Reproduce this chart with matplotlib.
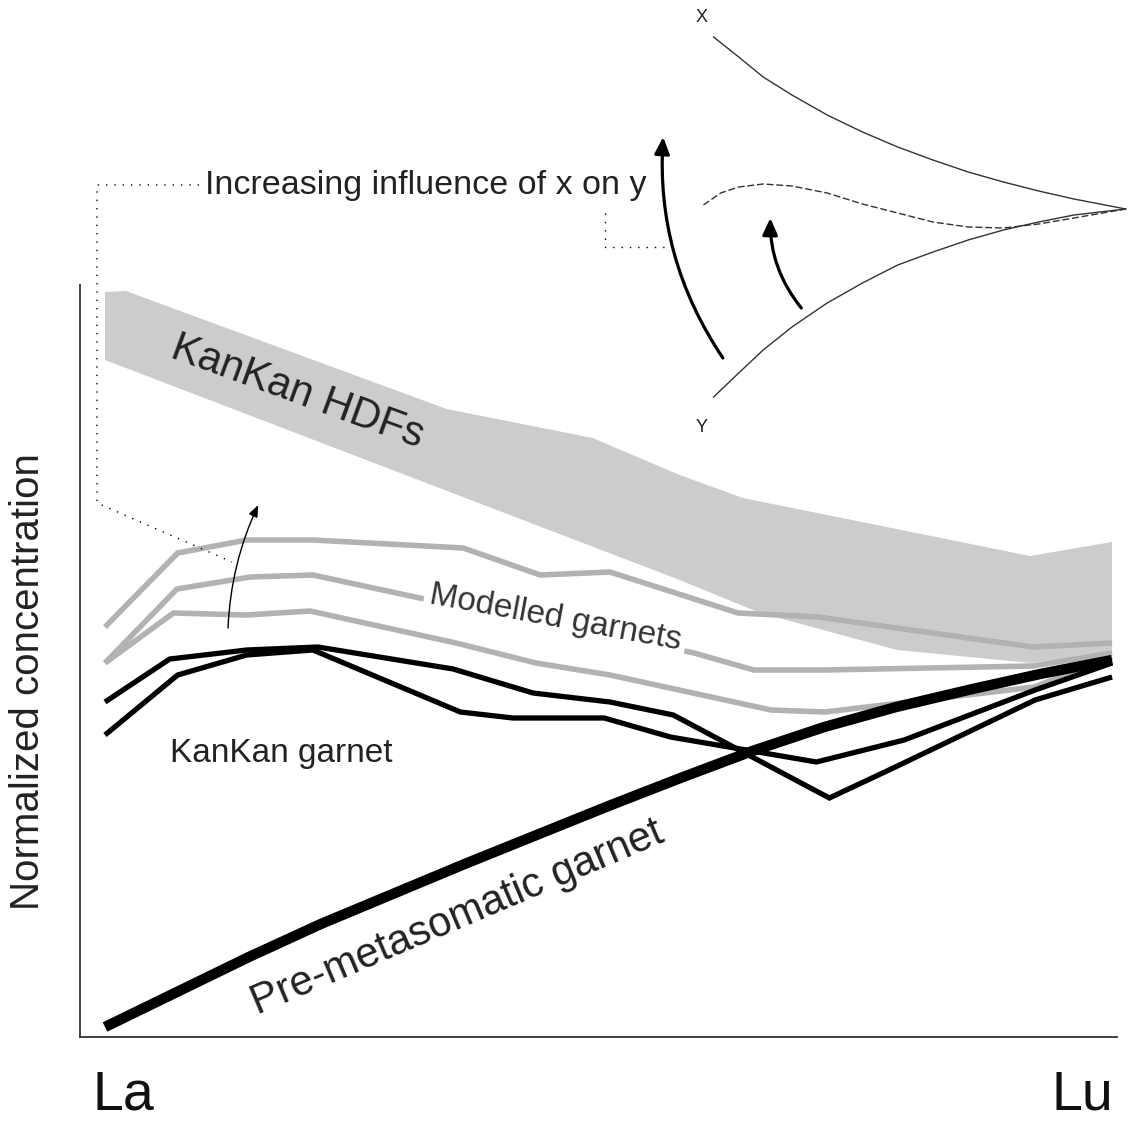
import matplotlib
matplotlib.use("Agg")
import matplotlib.pyplot as plt
from matplotlib.patches import FancyArrowPatch

plt.rcParams['font.family'] = ['Liberation Sans', 'DejaVu Sans']

# ---- data (x: position along REE series, La=0 ... Lu=14; y: normalized concentration, arbitrary units)
ree_labels = ['La', 'Lu']
ree_pos = [0, 14]

hdf_upper_x = [0, 0.29, 4.75, 6.78, 7.99, 8.87, 12.86, 14.0]
hdf_upper_y = [7.45, 7.46, 6.28, 5.99, 5.62, 5.39, 4.81, 4.95]
hdf_lower_x = [0, 7.99, 9.11, 11.01, 12.88, 14.0]
hdf_lower_y = [6.77, 4.57, 4.24, 3.87, 3.74, 3.85]

mod1_x = [0, 1.01, 1.97, 2.89, 4.98, 6.05, 7.02, 8.80, 9.91, 12.90, 14.0]
mod1_y = [4.10, 4.84, 4.97, 4.97, 4.89, 4.62, 4.65, 4.24, 4.20, 3.90, 3.94]
mod2_x = [0, 1.00, 2.02, 2.89, 4.31, 8.19, 9.02, 10.01, 12.90, 14.0]
mod2_y = [3.74, 4.48, 4.60, 4.62, 4.40, 3.84, 3.67, 3.67, 3.71, 3.84]
mod3_x = [0, 0.95, 1.97, 2.85, 4.88, 5.99, 7.02, 9.26, 10.01, 12.92, 14.0]
mod3_y = [3.74, 4.24, 4.22, 4.26, 3.94, 3.74, 3.62, 3.27, 3.25, 3.50, 3.80]

kk1_x = [0, 0.90, 1.97, 2.96, 4.84, 5.95, 7.02, 7.90, 10.07, 10.90, 12.93, 14.0]
kk1_y = [3.35, 3.78, 3.87, 3.90, 3.68, 3.44, 3.35, 3.22, 2.39, 2.67, 3.37, 3.60]
kk2_x = [0, 1.01, 1.97, 2.89, 4.94, 5.67, 6.94, 7.86, 9.89, 11.11, 12.93, 14.0]
kk2_y = [3.02, 3.62, 3.82, 3.87, 3.25, 3.19, 3.19, 3.00, 2.75, 2.97, 3.47, 3.74]

pre_x = list(range(15))
pre_y = [0.10, 0.45, 0.80, 1.13, 1.43, 1.73, 2.02, 2.31, 2.59, 2.86, 3.10, 3.30, 3.47, 3.63, 3.77]

# schematic mixing inset (x and y end-members)
inset_x = [8.46, 8.81, 9.15, 9.55, 10.04, 10.53, 11.02, 11.51, 12.0, 12.49, 12.98, 13.47, 14.19]
curve_x_y = [10.00, 9.80, 9.60, 9.42, 9.22, 9.05, 8.90, 8.77, 8.65, 8.55, 8.46, 8.38, 8.28]
curve_y_y = [6.40, 6.64, 6.87, 7.10, 7.34, 7.54, 7.72, 7.85, 7.97, 8.07, 8.15, 8.22, 8.28]
mix_x = [8.32, 8.56, 8.81, 9.15, 9.55, 10.04, 10.53, 11.02, 11.51, 12.0, 12.49, 12.98, 13.47, 14.19]
mix_y = [8.32, 8.44, 8.50, 8.53, 8.51, 8.44, 8.33, 8.24, 8.15, 8.10, 8.09, 8.13, 8.19, 8.28]

# ---- figure
fig = plt.figure(figsize=(11.33, 11.22), dpi=100)
ax = fig.add_axes([80/1133, 85/1122, 1037/1133, 752/1122])
ax.set_xlim(-0.3476, 14.069)
ax.set_ylim(0, 7.52)
for s in ['top', 'right']:
    ax.spines[s].set_visible(False)
for s in ['left', 'bottom']:
    ax.spines[s].set_color('#333333')
    ax.spines[s].set_linewidth(1.3)
ax.set_yticks([])
ax.set_xticks([])

# HDF band
poly_x = hdf_upper_x + hdf_lower_x[::-1]
poly_y = hdf_upper_y + hdf_lower_y[::-1]
ax.fill(poly_x, poly_y, color='#cccccc', lw=0, zorder=1)

grey = '#b2b2b2'
for xs, ys in [(mod1_x, mod1_y), (mod2_x, mod2_y), (mod3_x, mod3_y)]:
    ax.plot(xs, ys, color=grey, lw=4.0, solid_joinstyle='miter', solid_capstyle='butt', zorder=2)

for xs, ys in [(kk1_x, kk1_y), (kk2_x, kk2_y)]:
    ax.plot(xs, ys, color='black', lw=3.8, solid_joinstyle='miter', solid_capstyle='butt', zorder=3)

ax.plot(pre_x, pre_y, color='black', lw=7.5, solid_capstyle='butt', solid_joinstyle='round', zorder=4)

# inset curves (drawn outside axes area)
ax.plot(inset_x, curve_x_y, color='#333333', lw=1.0, clip_on=False)
ax.plot(inset_x, curve_y_y, color='#333333', lw=1.0, clip_on=False)
ax.plot(mix_x, mix_y, color='#333333', lw=1.0, ls=(0, (5, 2)), clip_on=False)
ax.text(8.30, 10.19, 'X', fontsize=13, color='#222222', ha='center', va='center', clip_on=False)
ax.text(8.30, 6.10, 'Y', fontsize=13, color='#222222', ha='center', va='center', clip_on=False)

def arrow(p0, p1, rad, lw, hl, hw):
    a = FancyArrowPatch(p0, p1, connectionstyle=f'arc3,rad={rad}',
                        arrowstyle=f'-|>,head_length={hl},head_width={hw}',
                        mutation_scale=1, shrinkA=0, shrinkB=0,
                        color='black', lw=lw, clip_on=False, zorder=6)
    ax.add_patch(a)

arrow((8.59, 6.79), (7.76, 9.00), -0.17, 2.3, 10, 4.5)
arrow((9.68, 7.29), (9.25, 8.19), -0.18, 2.3, 10, 4.5)
arrow((1.71, 4.09), (2.13, 5.32), -0.1, 1.0, 7, 2.8)

# dotted leader lines
ax.plot([1.307, -0.111, -0.111, 1.766], [8.52, 8.52, 5.34, 4.75], color='black', lw=1.0,
        ls=(0, (1, 5)), clip_on=False, zorder=5)
ax.plot([6.951, 6.951, 7.827], [8.24, 7.90, 7.90], color='black', lw=1.0,
        ls=(0, (1, 5)), clip_on=False, zorder=5)

# labels
ax.text(1.39, 8.51, 'Increasing influence of x on y', fontsize=24.5, color='#222222',
        ha='left', va='center', clip_on=False)
ax.text(2.68, 6.45, 'KanKan HDFs', fontsize=30, color='#222222', rotation=-20,
        ha='center', va='center', rotation_mode='anchor', zorder=7)
ax.text(6.26, 4.19, 'Modelled garnets', fontsize=24, color='#333333', rotation=-10.5,
        ha='center', va='center', rotation_mode='anchor', zorder=7,
        bbox=dict(boxstyle='square,pad=0.15', fc='white', ec='none'))
ax.text(0.90, 2.75, 'KanKan garnet', fontsize=24, color='#222222', ha='left', va='baseline')
ax.text(4.90, 1.19, 'Pre-metasomatic garnet', fontsize=30, color='#222222', rotation=23,
        ha='center', va='center', rotation_mode='anchor', zorder=7)

# REE end labels
ax.annotate(ree_labels[0], xy=(ree_pos[0], 0), xycoords=('data', 'axes fraction'),
            xytext=(-13, -73), textcoords='offset pixels', fontsize=40, ha='left',
            va='baseline', color='#111111', annotation_clip=False)
ax.annotate(ree_labels[1], xy=(ree_pos[1], 0), xycoords=('data', 'axes fraction'),
            xytext=(1, -73), textcoords='offset pixels', fontsize=40, ha='right',
            va='baseline', color='#111111', annotation_clip=False)

fig.text(28/1133, 1 - 682/1122, 'Normalized concentration', rotation=90, fontsize=29,
         color='#222222', ha='center', va='center')

fig.savefig('out.png', dpi=100, facecolor='white')
